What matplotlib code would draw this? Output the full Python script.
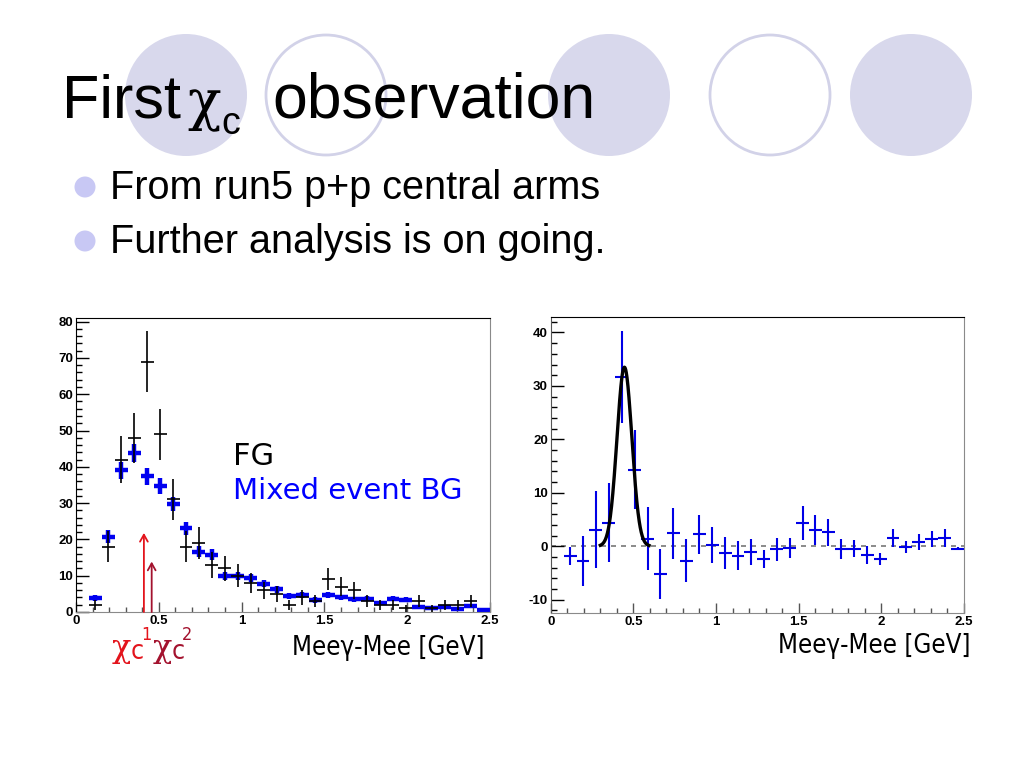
import matplotlib
matplotlib.use('Agg')
import matplotlib.pyplot as plt
import numpy as np
from matplotlib.patches import Circle
from matplotlib.ticker import MultipleLocator

# binning of the histograms: 32 bins 0..2.5 GeV, first bin empty
n_bins = 32
x_max = 2.5
bin_w = x_max / n_bins
centers = (np.arange(1, n_bins) + 0.5) * bin_w

# foreground (same event) counts
fg_counts = [2, 18, 42, 48, 69, 49, 31, 18, 19, 13, 12, 10, 8, 6, 5, 2,
             4, 3, 9, 7, 6, 3, 2, 2, 1, 3, 1, 2, 2, 3, np.nan]
fg_err = [1.4, 4.2, 6.5, 6.9, 8.3, 7.0, 5.6, 4.2, 4.4, 3.6, 3.5, 3.2, 2.8, 2.4, 2.2, 1.4,
          2.0, 1.7, 3.0, 2.6, 2.4, 1.7, 1.4, 1.4, 1.0, 1.7, 1.0, 1.4, 1.4, 1.7, 0.0]

# mixed event background (normalised)
bg_mixed = [3.9, 20.8, 39.0, 43.7, 37.4, 34.6, 29.7, 23.1, 16.6, 15.8, 9.9, 9.9, 9.3, 7.8, 6.2, 4.4,
            4.6, 3.3, 4.7, 4.0, 3.5, 3.6, 2.5, 3.6, 3.4, 1.5, 1.2, 1.4, 0.8, 1.6, 0.5]
bg_err = [0.8, 1.8, 2.4, 2.5, 2.3, 2.2, 2.0, 1.8, 1.5, 1.5, 1.2, 1.2, 1.1, 1.0, 0.9, 0.8,
          0.8, 0.7, 0.8, 0.7, 0.7, 0.7, 0.6, 0.7, 0.7, 0.5, 0.4, 0.5, 0.4, 0.5, 0.3]

# FG - BG
signal = [-1.8, -2.8, 3.1, 4.4, 31.6, 14.3, 1.4, -5.2, 2.4, -2.7, 2.2, 0.2, -1.3, -1.8, -1.1, -2.4,
          -0.6, -0.3, 4.4, 3.1, 2.6, -0.5, -0.5, -1.6, -2.4, 1.6, -0.1, 0.7, 1.3, 1.5, -0.5]
signal_err = [1.7, 4.7, 7.2, 7.4, 8.6, 7.4, 5.9, 4.6, 4.7, 4.0, 3.6, 3.4, 3.0, 2.7, 2.4, 1.7,
              2.1, 1.9, 3.2, 2.8, 2.5, 1.9, 1.6, 1.7, 1.1, 1.7, 1.1, 1.5, 1.5, 1.7, 0.3]

# gaussian fit result
fit_mean, fit_sigma, fit_amp = 0.446, 0.045, 33.5
fit_lo, fit_hi = 0.30, 0.595

# expected chi_c1 / chi_c2 positions (arrows)
arrow_x = [0.41, 0.457]
arrow_top = [21.8, 13.9]
arrow_col = ['#e3141c', '#a3122e']

W, H = 1024, 768
fig = plt.figure(figsize=(W / 100, H / 100), dpi=100)
fig.patch.set_facecolor('white')

# slide decoration in pixel coords
bg = fig.add_axes([0, 0, 1, 1], zorder=0)
bg.set_xlim(0, W)
bg.set_ylim(H, 0)
bg.axis('off')

for cx in [186, 609, 911]:
    bg.add_patch(Circle((cx, 95), 61, facecolor='#d8d8ec', edgecolor='none'))
for cx in [326, 770]:
    bg.add_patch(Circle((cx, 95), 60, facecolor='none', edgecolor='#d2d2e8', lw=2))

bg.text(62, 117, 'First', fontsize=44, family='Liberation Sans', va='baseline')
bg.text(187, 119, 'χ', fontsize=40, family='DejaVu Serif', va='baseline')
bg.text(221, 134, 'c', fontsize=27, family='Liberation Sans', va='baseline')
bg.text(272, 117, 'observation', fontsize=45, family='Liberation Sans', va='baseline')

for by, txt in [(199, 'From run5 p+p central arms'), (253, 'Further analysis is on going.')]:
    bg.add_patch(Circle((85, by - 12), 10.5, facecolor='#c8c8f4', edgecolor='none'))
    bg.text(110, by, txt, fontsize=28.5, family='Liberation Sans', va='baseline')

tick_font = {'family': 'Liberation Sans', 'weight': 'bold', 'size': 9.5}
cond = dict(family='DejaVu Sans', fontstretch='condensed')


def style_axes(ax, ymajor, yminor):
    ax.set_xlim(0, x_max)
    ax.xaxis.set_major_locator(MultipleLocator(0.5))
    ax.xaxis.set_minor_locator(MultipleLocator(0.1))
    ax.yaxis.set_major_locator(MultipleLocator(ymajor))
    ax.yaxis.set_minor_locator(MultipleLocator(yminor))
    ax.tick_params(which='both', direction='in', top=False, right=False)
    ax.tick_params(axis='y', which='major', length=9, width=1, pad=2)
    ax.tick_params(axis='y', which='minor', length=4.5, width=1)
    ax.tick_params(axis='x', which='major', length=7, width=1, pad=2, color='#555555')
    ax.tick_params(axis='x', which='minor', length=3.5, width=1, color='#555555')
    ax.xaxis.set_major_formatter(plt.FuncFormatter(lambda v, p: f'{v:g}'))
    ax.yaxis.set_major_formatter(plt.FuncFormatter(lambda v, p: f'{v:g}'))
    for lab in ax.get_xticklabels() + ax.get_yticklabels():
        lab.set_fontproperties(tick_font)
    ax.spines['top'].set_color('black')
    ax.spines['left'].set_color('black')
    ax.spines['right'].set_color('#8a8a8a')
    ax.spines['bottom'].set_color('#8a8a8a')


# left panel: FG and mixed event BG
ax1 = fig.add_axes([76 / W, (H - 612) / H, 414 / W, 294 / H], zorder=2)
ax1.errorbar(centers, bg_mixed, yerr=bg_err, xerr=bin_w / 2, fmt='none',
             ecolor='#0000f0', elinewidth=3.2, capsize=0, zorder=2)
ax1.errorbar(centers, fg_counts, yerr=fg_err, xerr=bin_w / 2, fmt='none',
             ecolor='black', elinewidth=1.2, capsize=0, zorder=3)
for xa, ya, ca in zip(arrow_x, arrow_top, arrow_col):
    ax1.annotate('', xy=(xa, ya), xytext=(xa, 0),
                 arrowprops=dict(arrowstyle='->,head_length=0.5,head_width=0.28',
                                 color=ca, lw=1.3, shrinkA=0, shrinkB=0))
ax1.set_ylim(0, 81)
style_axes(ax1, 10, 2)
ax1.text(233, 465, 'FG', fontsize=22, family='DejaVu Sans', color='black',
         va='baseline', transform=bg.transData, zorder=5)
ax1.text(233, 499, 'Mixed event BG', fontsize=21, family='DejaVu Sans', color='#0000ff',
         va='baseline', transform=bg.transData, zorder=5)

# right panel: FG - BG with gaussian fit
ax2 = fig.add_axes([550.7 / W, (H - 613) / H, 413.3 / W, 296 / H], zorder=2)
ax2.axhline(0, color='#777777', lw=1.2, ls=(0, (3, 3)), zorder=1)
ax2.errorbar(centers, signal, yerr=signal_err, xerr=bin_w / 2, fmt='none',
             ecolor='#0000e6', elinewidth=1.5, capsize=0, zorder=2)
xf = np.linspace(fit_lo, fit_hi, 200)
ax2.plot(xf, fit_amp * np.exp(-0.5 * ((xf - fit_mean) / fit_sigma) ** 2),
         color='black', lw=2.4, zorder=3)
ax2.set_ylim(-12.5, 42.9)
style_axes(ax2, 10, 2)
ax2.spines['left'].set_color('#555555')

# axis titles
bg.text(485, 655, 'Meeγ-Mee [GeV]', fontsize=18.5, ha='right', va='baseline', **cond)
bg.text(970, 653, 'Meeγ-Mee [GeV]', fontsize=18.5, ha='right', va='baseline', **cond)

# chi_c1 chi_c2 labels
for x0, sup, col in [(112, '1', '#e3141c'), (153, '2', '#a3122e')]:
    bg.text(x0, 657, 'χ', fontsize=23, family='DejaVu Serif', color=col, va='baseline')
    bg.text(x0 + 19, 659, 'c', fontsize=19, color=col, va='baseline', **cond)
    bg.text(x0 + 29, 640, sup, fontsize=13, color=col, va='baseline', **cond)

fig.savefig('out.png', dpi=100, facecolor='white')
